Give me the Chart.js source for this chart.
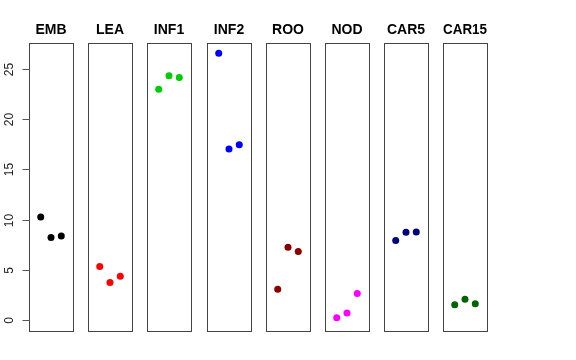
<!DOCTYPE html>
<html>
<head>
<meta charset="utf-8">
<script src="https://cdn.jsdelivr.net/npm/chart.js@4.4.0/dist/chart.umd.min.js"></script>
<style>
  body { margin: 0; background: #fff; }
  #wrap { position: relative; width: 576px; height: 360px; background: #fff; }
  #wrap canvas { position: absolute; top: 0; }
</style>
</head>
<body>
<div id="wrap"></div>
<script>
// panel names, colours and the three values per panel
const groups = ["EMB", "LEA", "INF1", "INF2", "ROO", "NOD", "CAR5", "CAR15"];
const colors = ["#000000", "#ff0000", "#00cd00", "#0000ff", "#8b0000", "#ff00ff", "#000080", "#006400"];
const reps = [1, 2, 3];
const emb = [10.26, 8.23, 8.37];
const lea = [5.34, 3.75, 4.38];
const inf1 = [22.97, 24.33, 24.16];
const inf2 = [26.55, 17.03, 17.46];
const roo = [3.09, 7.27, 6.83];
const nod = [0.26, 0.73, 2.65];
const car5 = [7.93, 8.76, 8.79];
const car15 = [1.55, 2.09, 1.65];
const values = [emb, lea, inf1, inf2, roo, nod, car5, car15];
const yTicks = [0, 5, 10, 15, 20, 25];

const wrap = document.getElementById("wrap");
const boxW = 44;
const pad = 5;
const font = "'Liberation Sans', Arial, Helvetica, sans-serif";

const boxPlugin = {
  id: "box",
  afterDraw(chart) {
    const a = chart.chartArea;
    const ctx = chart.ctx;
    ctx.save();
    ctx.strokeStyle = "#444";
    ctx.lineWidth = 1;
    ctx.strokeRect(Math.round(a.left) + 0.5, Math.round(a.top) + 0.5,
      Math.round(a.right - a.left), Math.round(a.bottom - a.top));
    ctx.restore();
  }
};

// y axis like R's default: ticks and rotated labels
const yAxisPlugin = {
  id: "yaxis",
  afterDraw(chart) {
    const y = chart.scales.y;
    if (!y.options.display) return;
    const ctx = chart.ctx;
    const x0 = Math.round(chart.chartArea.left) + 0.5;
    ctx.save();
    ctx.strokeStyle = "#555";
    ctx.lineWidth = 1;
    ctx.fillStyle = "#222";
    ctx.font = "12px " + font;
    ctx.textAlign = "center";
    ctx.textBaseline = "middle";
    yTicks.forEach(v => {
      const py = Math.round(y.getPixelForValue(v)) + 0.5;
      ctx.beginPath();
      ctx.moveTo(x0 - 7, py);
      ctx.lineTo(x0, py);
      ctx.stroke();
      ctx.save();
      ctx.translate(10, py);
      ctx.rotate(-Math.PI / 2);
      ctx.fillText(String(v), 0, 0);
      ctx.restore();
    });
    ctx.restore();
  }
};

groups.forEach((name, i) => {
  const boxLeft = Math.round(29 + i * 59.2);
  const first = i === 0;
  const cv = document.createElement("canvas");
  const left = first ? 0 : boxLeft - pad;
  const w = first ? boxLeft + boxW + pad : boxW + 2 * pad;
  cv.width = w;
  cv.height = 360;
  cv.style.left = left + "px";
  wrap.appendChild(cv);

  const yScale = {
    type: "linear",
    min: -1.07,
    max: 27.6,
    display: first
  };
  if (first) {
    yScale.afterFit = s => { s.width = boxLeft; };
    yScale.border = { display: false };
    yScale.grid = { display: false };
    yScale.ticks = { stepSize: 5, includeBounds: false, display: false };
  }

  new Chart(cv, {
    type: "scatter",
    data: {
      datasets: [{
        data: reps.map((r, k) => ({ x: r, y: values[i][k] })),
        backgroundColor: colors[i],
        borderColor: colors[i],
        pointRadius: 3.5,
        pointHoverRadius: 3.5,
        borderWidth: 0
      }]
    },
    options: {
      responsive: false,
      animation: false,
      layout: { padding: { left: first ? 0 : pad, right: pad, top: 0, bottom: 29 } },
      plugins: {
        legend: { display: false },
        tooltip: { enabled: false },
        title: {
          display: true,
          text: name,
          fullSize: false,
          color: "#000",
          font: { family: font, size: 14, weight: "bold", lineHeight: 1.2 },
          padding: { top: 22, bottom: 4 }
        }
      },
      scales: {
        x: { type: "linear", min: -0.14, max: 4.14, display: false },
        y: yScale
      }
    },
    plugins: [boxPlugin, yAxisPlugin]
  });
});
</script>
</body>
</html>
